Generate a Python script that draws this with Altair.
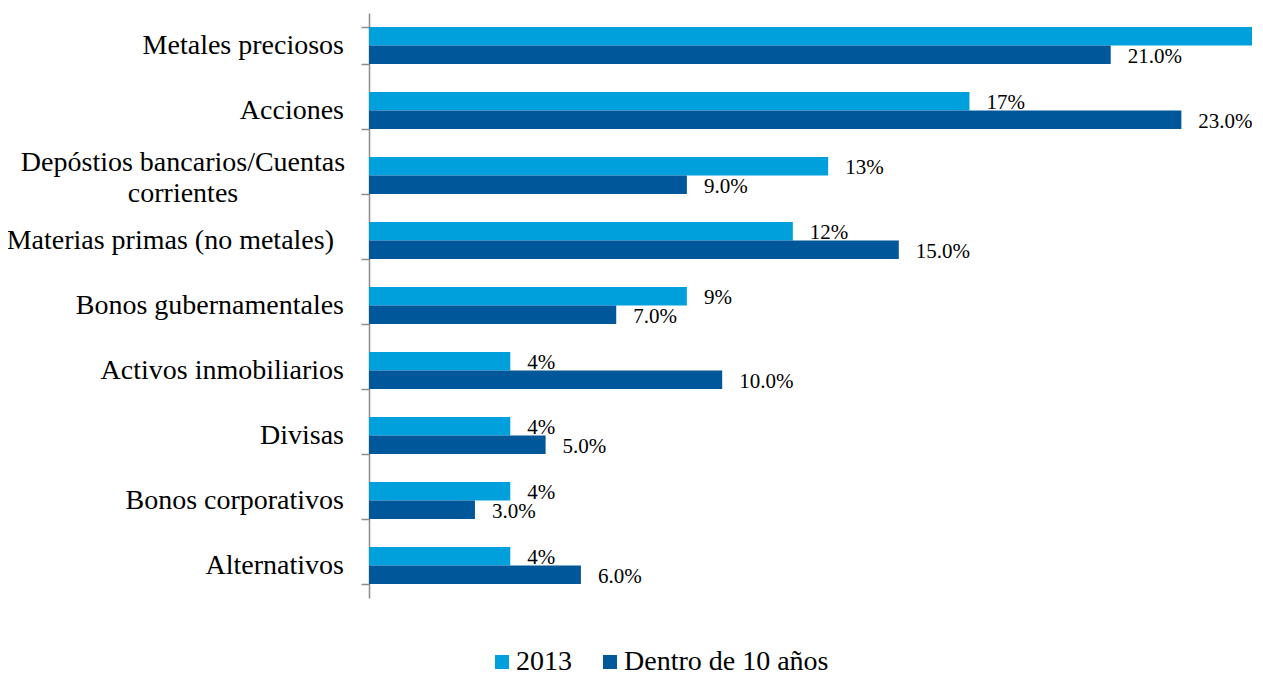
import altair as alt
import pandas as pd

categories = [
    "Metales preciosos",
    "Acciones",
    "Depóstios bancarios/Cuentas corrientes",
    "Materias primas (no metales)",
    "Bonos gubernamentales",
    "Activos inmobiliarios",
    "Divisas",
    "Bonos corporativos",
    "Alternativos",
]
display_labels = [
    "Metales preciosos",
    "Acciones",
    "Depóstios bancarios/Cuentas\ncorrientes",
    "Materias primas (no metales)",
    "Bonos gubernamentales",
    "Activos inmobiliarios",
    "Divisas",
    "Bonos corporativos",
    "Alternativos",
]
series = ["2013", "Dentro de 10 años"]
values_2013 = [25, 17, 13, 12, 9, 4, 4, 4, 4]
values_10y = [21.0, 23.0, 9.0, 15.0, 7.0, 10.0, 5.0, 3.0, 6.0]
colors = ["#00A0DC", "#00579A"]
x_max = 25

FONT = "Liberation Serif, Times New Roman, Tinos, DejaVu Serif, serif"

rows = []
for c, v in zip(categories, values_2013):
    rows.append({"cat": c, "serie": series[0], "val": v, "label": f"{v:.0f}%"})
for c, v in zip(categories, values_10y):
    rows.append({"cat": c, "serie": series[1], "val": v, "label": f"{v:.1f}%"})
df = pd.DataFrame(rows)

cat_df = pd.DataFrame({"cat": categories, "disp": display_labels})

y_scale = alt.Scale(domain=categories, paddingInner=0.43, paddingOuter=0.215)

y_enc = alt.Y(
    "cat:N",
    sort=categories,
    scale=y_scale,
    axis=alt.Axis(
        title=None,
        labels=False,
        domainColor="#8C8C8C",
        domainWidth=1.5,
        tickColor="#8C8C8C",
        tickWidth=1.5,
        tickSize=8,
        tickBand="extent",
        grid=False,
    ),
)
yoff = alt.YOffset("serie:N", sort=series, scale=alt.Scale(paddingInner=0, paddingOuter=0))
x_enc = alt.X("val:Q", scale=alt.Scale(domain=[0, x_max], nice=False, zero=True), axis=None)

base = alt.Chart(df)

bars = base.mark_bar().encode(
    x=x_enc,
    y=y_enc,
    yOffset=yoff,
    color=alt.Color(
        "serie:N",
        sort=series,
        scale=alt.Scale(domain=series, range=colors),
        legend=alt.Legend(
            title=None,
            orient="none",
            direction="horizontal",
            legendX=119,
            legendY=635,
            symbolType="square",
            symbolSize=196,
            symbolStrokeWidth=0,
            labelFont=FONT,
            labelFontSize=28,
            labelColor="#000000",
            labelOffset=0,
            labelLimit=0,
            columnPadding=24,
            padding=0,
        ),
    ),
)

# labels of bars that run past the axis end are hidden (as in the reference)
texts = base.transform_filter(f"datum.val < {x_max}").mark_text(
    align="left",
    baseline="alphabetic",
    dx=17,
    dy=8,
    font=FONT,
    fontSize=21,
    color="#000000",
    clip=True,
).encode(
    x=x_enc,
    y=alt.Y("cat:N", sort=categories),
    yOffset=alt.YOffset("serie:N", sort=series),
    text="label:N",
)

cat_base = alt.Chart(cat_df)
cat_style = dict(font=FONT, fontSize=28, color="#000000", baseline="middle")

cat_single = cat_base.transform_filter(
    "indexof(datum.disp, '\\n') < 0 && datum.cat != 'Materias primas (no metales)'"
).mark_text(align="right", **cat_style).encode(
    x=alt.value(-25), y=alt.Y("cat:N", sort=categories), text="disp:N"
)
cat_materias = cat_base.transform_filter(
    "datum.cat == 'Materias primas (no metales)'"
).mark_text(align="right", **cat_style).encode(
    x=alt.value(-35), y=alt.Y("cat:N", sort=categories), text="disp:N"
)
cat_multi = cat_base.transform_filter(
    "indexof(datum.disp, '\\n') >= 0"
).mark_text(align="center", lineBreak="\n", lineHeight=31, dy=-13, **cat_style).encode(
    x=alt.value(-186), y=alt.Y("cat:N", sort=categories), text="disp:N"
)

chart = (
    alt.layer(bars, texts, cat_single, cat_materias, cat_multi)
    .properties(
        width=883,
        height=585,
        autosize=alt.AutoSizeParams(type="none"),
        padding={"left": 361, "top": 5, "right": 0, "bottom": 79},
    )
    .configure_view(stroke=None)
)

chart.save("out.html", embed_options={"renderer": "svg", "actions": False})
